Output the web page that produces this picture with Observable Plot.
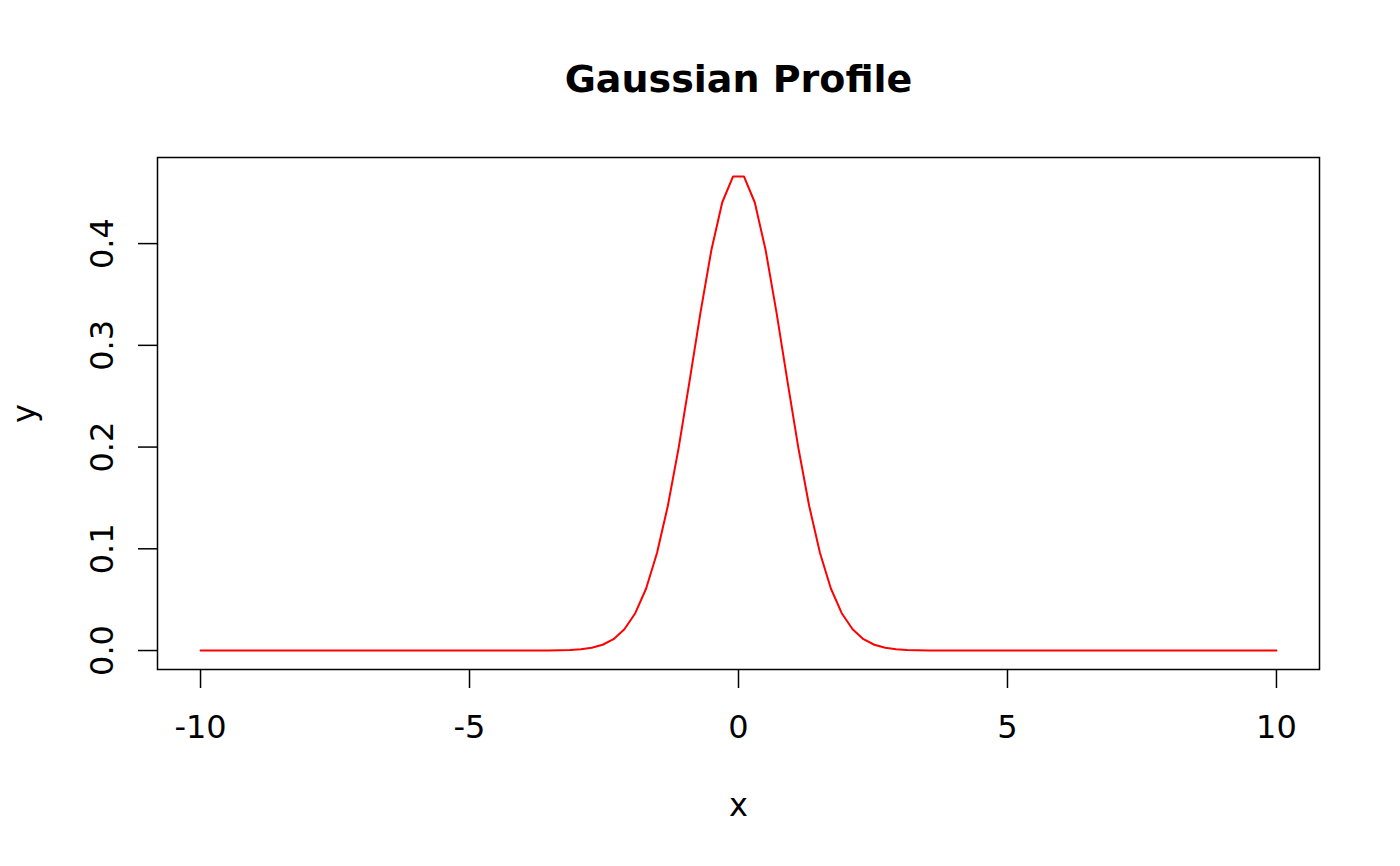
<!DOCTYPE html>
<html>
<head>
<meta charset="utf-8">
<script src="https://cdn.jsdelivr.net/npm/d3@7"></script>
<script src="https://cdn.jsdelivr.net/npm/@observablehq/plot@0.6"></script>
<style>
  html, body { margin: 0; padding: 0; background: #fff; }
  #chart { width: 1400px; height: 866px; }
</style>
</head>
<body>
<div id="chart"></div>
<script>
const title = "Gaussian Profile";
const xLabel = "x";
const yLabel = "y";

const xs = [
  -10.000, -9.798, -9.596, -9.394, -9.192, -8.990, -8.788, -8.586, -8.384, -8.182,
  -7.980, -7.778, -7.576, -7.374, -7.172, -6.970, -6.768, -6.566, -6.364, -6.162,
  -5.960, -5.758, -5.556, -5.354, -5.152, -4.949, -4.747, -4.545, -4.343, -4.141,
  -3.939, -3.737, -3.535, -3.333, -3.131, -2.929, -2.727, -2.525, -2.323, -2.121,
  -1.919, -1.717, -1.515, -1.313, -1.111, -0.909, -0.707, -0.505, -0.303, -0.101,
  0.101, 0.303, 0.505, 0.707, 0.909, 1.111, 1.313, 1.515, 1.717, 1.919,
  2.121, 2.323, 2.525, 2.727, 2.929, 3.131, 3.333, 3.535, 3.737, 3.939,
  4.141, 4.343, 4.545, 4.747, 4.949, 5.152, 5.354, 5.556, 5.758, 5.960,
  6.162, 6.364, 6.566, 6.768, 6.970, 7.172, 7.374, 7.576, 7.778, 7.980,
  8.182, 8.384, 8.586, 8.788, 8.990, 9.192, 9.394, 9.596, 9.798, 10.000
];

const ys = [
  0, 0, 0, 0, 0, 0, 0, 0, 0, 0,
  0, 0, 0, 0, 0, 0, 0, 0, 0, 0,
  0, 0, 0, 0, 0, 0, 0, 0, 0, 0,
  0, 0.00003, 0.00008, 0.0002, 0.0005, 0.0012, 0.0027, 0.0057, 0.0112, 0.0209,
  0.0367, 0.0610, 0.0958, 0.1423, 0.1997, 0.2650, 0.3321, 0.3934, 0.4404, 0.4660,
  0.4660, 0.4404, 0.3934, 0.3321, 0.2650, 0.1997, 0.1423, 0.0958, 0.0610, 0.0367,
  0.0209, 0.0112, 0.0057, 0.0027, 0.0012, 0.0005, 0.0002, 0.00008, 0.00003, 0,
  0, 0, 0, 0, 0, 0, 0, 0, 0, 0,
  0, 0, 0, 0, 0, 0, 0, 0, 0, 0,
  0, 0, 0, 0, 0, 0, 0, 0, 0, 0
];

const xTicks = [-10, -5, 0, 5, 10];
const yTicks = [0.0, 0.1, 0.2, 0.3, 0.4];

const data = xs.map((x, i) => ({x, y: ys[i]}));

const font = "DejaVu Sans, sans-serif";

const chart = Plot.plot({
  width: 1400,
  height: 866,
  marginLeft: 157,
  marginRight: 81,
  marginTop: 157,
  marginBottom: 197,
  style: { fontFamily: font, background: "#fff", color: "#000" },
  x: { domain: [-10.8, 10.8] },
  y: { domain: [-0.01864, 0.48464] },
  marks: [
    Plot.frame({ stroke: "#000", strokeWidth: 1.5 }),
    Plot.axisX(xTicks, {
      tickSize: 19, tickPadding: 27, strokeWidth: 1.5, fontSize: 32,
      tickFormat: d => String(d), label: null, lineAnchor: "top"
    }),
    Plot.axisY(yTicks, {
      tickSize: 19, strokeWidth: 1.5, tickFormat: () => "", label: null
    }),
    Plot.text(yTicks, {
      y: d => d, text: d => d3.format(".1f")(d),
      frameAnchor: "left", dx: -45, fontSize: 32, rotate: -90,
      textAnchor: "middle", lineAnchor: "bottom"
    }),
    Plot.line(data, { x: "x", y: "y", stroke: "#ff0000", strokeWidth: 2 }),
    Plot.text([title], {
      frameAnchor: "top", dy: -66, fontSize: 38, fontWeight: "bold",
      lineAnchor: "bottom", text: d => d
    }),
    Plot.text([xLabel], {
      frameAnchor: "bottom", dy: 146, fontSize: 32, lineAnchor: "bottom", text: d => d
    }),
    Plot.text([yLabel], {
      frameAnchor: "left", dx: -123, fontSize: 32, rotate: -90,
      lineAnchor: "bottom", textAnchor: "middle", text: d => d
    })
  ]
});

document.getElementById("chart").appendChild(chart);
</script>
</body>
</html>
